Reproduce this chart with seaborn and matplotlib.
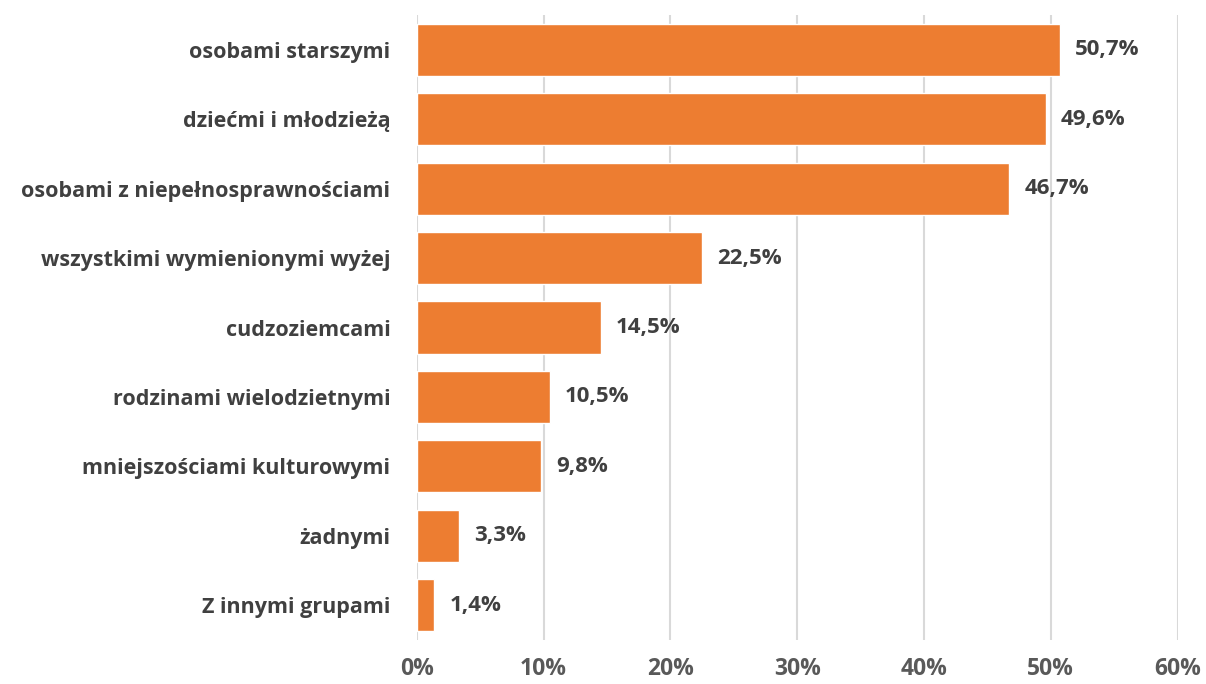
import matplotlib
matplotlib.use("Agg")
import matplotlib.pyplot as plt
import seaborn as sns
import pandas as pd

categories = [
    "osobami starszymi",
    "dziećmi i młodzieżą",
    "osobami z niepełnosprawnościami",
    "wszystkimi wymienionymi wyżej",
    "cudzoziemcami",
    "rodzinami wielodzietnymi",
    "mniejszościami kulturowymi",
    "żadnymi",
    "Z innymi grupami",
]
values = [50.7, 49.6, 46.7, 22.5, 14.5, 10.5, 9.8, 3.3, 1.4]
tick_values = [0, 10, 20, 30, 40, 50, 60]

df = pd.DataFrame({"grupa": categories, "procent": values})

sns.set_theme(style="white")
plt.rcParams["font.family"] = ["Open Sans", "DejaVu Sans"]

fig = plt.figure(figsize=(12.06, 6.84), dpi=100)
ax = fig.add_axes([0.3455, 0.0643, 0.631, 0.9137])

sns.barplot(data=df, x="procent", y="grupa", color="#ED7D31", saturation=1,
            width=0.75, ax=ax, zorder=3)

ax.set_xlim(0, 60)
ax.set_xticks(tick_values)
ax.set_xticklabels([f"{t}%" for t in tick_values])
ax.grid(axis="x", color="#D9D9D9", linewidth=1.5, zorder=0)
ax.grid(axis="y", visible=False)
for s in ax.spines.values():
    s.set_visible(False)
ax.set_xlabel("")
ax.set_ylabel("")
ax.tick_params(axis="x", length=0, pad=12, labelsize=16.5, labelcolor="#595959")
ax.tick_params(axis="y", length=0, pad=19, labelsize=15.5, labelcolor="#404040")
for lab in ax.get_xticklabels() + ax.get_yticklabels():
    lab.set_fontweight("bold")

for i, v in enumerate(values):
    ax.text(v + 1.2, i, f"{v:.1f}%".replace(".", ","), va="center", ha="left",
            fontsize=16, fontweight="bold", color="#404040")

fig.savefig("out.png", dpi=100)
